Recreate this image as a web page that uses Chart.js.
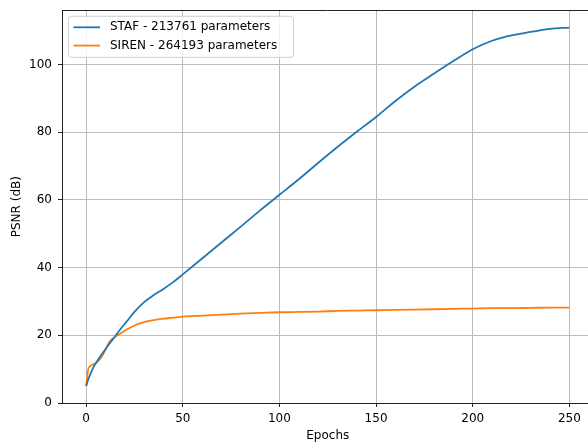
<!DOCTYPE html>
<html>
<head>
<meta charset="utf-8">
<script src="https://cdn.jsdelivr.net/npm/chart.js@4.4.0/dist/chart.umd.min.js"></script>
<style>
  html, body { margin: 0; padding: 0; overflow: hidden; background: #fff; }
  #wrap { width: 600px; height: 442px; }
</style>
</head>
<body>
<div id="wrap"><canvas id="psnrChart"></canvas></div>
<script>
const epochs = [0, 1, 2, 4, 6, 8, 10, 12, 15, 18, 21, 25, 30, 35, 40, 45, 50, 60, 70, 80, 90,
                100, 110, 120, 130, 140, 150, 160, 170, 180, 190, 200, 210, 220, 230, 240, 250];
// STAF - 213761 parameters
const stafPsnr = [5.0, 6.8, 8.3, 10.8, 12.6, 14.3, 15.9, 17.5, 19.7, 22.0, 24.1, 26.9, 29.8, 31.9, 33.7, 35.7, 38.0,
                  42.7, 47.4, 52.1, 56.9, 61.5, 66.1, 70.9, 75.6, 80.1, 84.5, 89.2, 93.5, 97.3, 101.0,
                  104.5, 107.0, 108.6, 109.6, 110.5, 110.9];
// SIREN - 264193 parameters
const sirenPsnr = [5.0, 9.8, 10.8, 11.5, 12.3, 13.6, 15.8, 18.0, 19.6, 20.6, 21.7, 22.9, 23.9, 24.5, 24.9, 25.2, 25.5,
                   25.8, 26.1, 26.4, 26.6, 26.8, 26.9, 27.0, 27.2, 27.3, 27.4, 27.5, 27.6, 27.7, 27.8,
                   27.9, 28.0, 28.0, 28.1, 28.2, 28.2];
const xTicks = [0, 50, 100, 150, 200, 250];
const yTicks = [0, 20, 40, 60, 80, 100];

Chart.defaults.font.family = 'DejaVu Sans';
Chart.defaults.font.size = 12;
Chart.defaults.color = '#000';

// top spine (matplotlib style box)
const topSpine = {
    id: 'topSpine',
    afterDatasetsDraw(chart) {
        const {ctx, chartArea} = chart;
        ctx.save();
        ctx.strokeStyle = '#222';
        ctx.lineWidth = 1;
        ctx.beginPath();
        ctx.moveTo(chartArea.left, Math.round(chartArea.top) + 0.5);
        ctx.lineTo(chartArea.right, Math.round(chartArea.top) + 0.5);
        ctx.stroke();
        ctx.restore();
    }
};

// legend drawn inside the plot, upper left
const insideLegend = {
    id: 'insideLegend',
    afterDraw(chart) {
        const {ctx, chartArea} = chart;
        const x = chartArea.left + 6.5, y = chartArea.top + 6, w = 225, h = 41, r = 3;
        ctx.save();
        ctx.beginPath();
        ctx.roundRect(x, y, w, h, r);
        ctx.fillStyle = 'rgba(255,255,255,0.8)';
        ctx.fill();
        ctx.strokeStyle = '#d0d0d0';
        ctx.lineWidth = 1;
        ctx.stroke();
        ctx.font = '12px "DejaVu Sans"';
        ctx.textBaseline = 'middle';
        ctx.textAlign = 'left';
        chart.data.datasets.forEach((ds, i) => {
            const ly = y + 11 + i * 18.3;
            ctx.strokeStyle = ds.borderColor;
            ctx.lineWidth = 1.8;
            ctx.beginPath();
            ctx.moveTo(x + 5, ly);
            ctx.lineTo(x + 31.5, ly);
            ctx.stroke();
            ctx.fillStyle = '#000';
            ctx.fillText(ds.label, x + 41.5, ly);
        });
        ctx.restore();
    }
};

const ctx = document.getElementById('psnrChart');
const psnrChart = new Chart(ctx, {
    type: 'line',
    data: {
        datasets: [
            {
                label: 'STAF - 213761 parameters',
                data: epochs.map((e, i) => ({x: e, y: stafPsnr[i]})),
                borderColor: '#1f77b4',
                borderWidth: 1.8,
                pointRadius: 0,
                cubicInterpolationMode: 'monotone',
                fill: false
            },
            {
                label: 'SIREN - 264193 parameters',
                data: epochs.map((e, i) => ({x: e, y: sirenPsnr[i]})),
                borderColor: '#ff7f0e',
                borderWidth: 1.8,
                pointRadius: 0,
                cubicInterpolationMode: 'monotone',
                fill: false
            }
        ]
    },
    options: {
        responsive: true,
        maintainAspectRatio: false,
        animation: false,
        layout: { autoPadding: false, padding: { left: 0, right: 6.5, top: 10.3, bottom: 0 } },
        scales: {
            x: {
                type: 'linear',
                min: -12.5,
                max: 262.5,
                afterBuildTicks: scale => { scale.ticks = xTicks.map(v => ({value: v})); },
                afterFit: scale => { scale.height = 39; scale.paddingLeft = 0; scale.paddingRight = 0; },
                grid: { color: '#bdbdbd', lineWidth: 1, tickLength: 4, tickColor: '#222' },
                border: { color: '#222', width: 1 },
                ticks: { padding: 5, color: '#000', maxRotation: 0 },
                title: { display: true, text: 'Epochs', padding: { top: 0, bottom: -1 } }
            },
            y: {
                min: 0,
                max: 116,
                afterBuildTicks: scale => { scale.ticks = yTicks.map(v => ({value: v})); },
                afterFit: scale => { scale.width = 62; scale.paddingTop = 0; scale.paddingBottom = 0; },
                grid: { color: '#bdbdbd', lineWidth: 1, tickLength: 4, tickColor: '#222' },
                border: { color: '#222', width: 1 },
                ticks: { padding: 6, color: '#000' },
                title: { display: true, text: 'PSNR (dB)', padding: { top: 9.5, bottom: 0 } }
            }
        },
        plugins: {
            legend: { display: false },
            tooltip: { enabled: false }
        }
    },
    plugins: [topSpine, insideLegend]
});
</script>
</body>
</html>
